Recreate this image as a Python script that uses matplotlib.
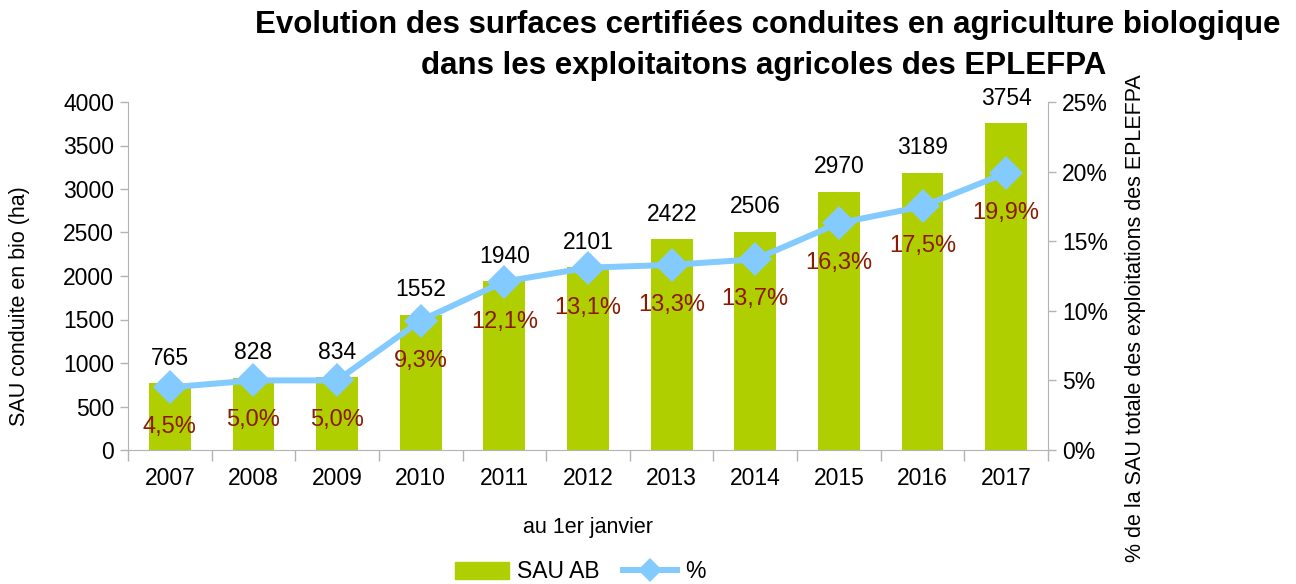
import matplotlib
matplotlib.use("Agg")
import matplotlib.pyplot as plt
from matplotlib.lines import Line2D
from matplotlib.patches import Patch

years = ["2007", "2008", "2009", "2010", "2011", "2012", "2013", "2014", "2015", "2016", "2017"]
sau_ab = [765, 828, 834, 1552, 1940, 2101, 2422, 2506, 2970, 3189, 3754]
pct = [4.5, 5.0, 5.0, 9.3, 12.1, 13.1, 13.3, 13.7, 16.3, 17.5, 19.9]
left_ticks = [0, 500, 1000, 1500, 2000, 2500, 3000, 3500, 4000]
right_ticks = [0, 5, 10, 15, 20, 25]

plt.rcParams['font.family'] = ['Liberation Sans', 'DejaVu Sans']

W, H = 1296, 584
fig = plt.figure(figsize=(W / 100, H / 100), dpi=100)
ax = fig.add_axes([128 / W, 1 - 450 / H, (1048 - 128) / W, (450 - 102) / H])
ax2 = ax.twinx()

grey = "#b3b3b3"
bar_color = "#b0cf00"
line_color = "#83caff"
lab_red = "#8b1a00"
fs = 16.5

x = list(range(len(years)))
ax.bar(x, sau_ab, width=0.5, color=bar_color, zorder=2)
ax.set_xlim(-0.5, len(years) - 0.5)
ax.set_ylim(0, 4000)
ax.set_yticks(left_ticks)
ax.set_yticklabels([str(t) for t in left_ticks], fontsize=fs)
ax.set_xticks(x)
ax.set_xticklabels(years, fontsize=fs)
ax.set_xticks([i - 0.5 for i in range(len(years) + 1)], minor=True)
ax.tick_params(axis='x', which='major', length=0, pad=12)
ax.tick_params(axis='x', which='minor', length=8, color=grey, width=1)
ax.tick_params(axis='y', length=6, color=grey, width=1, pad=4)

ax.spines["top"].set_visible(False)
ax2.spines["top"].set_visible(False)
ax.spines["left"].set_color(grey)
ax.spines["bottom"].set_color(grey)
ax.spines["right"].set_visible(False)
ax2.spines["left"].set_visible(False)
ax2.spines["bottom"].set_visible(False)
ax2.spines["right"].set_color(grey)

for xi, v in zip(x, sau_ab):
    ax.annotate(str(v), (xi, v), xytext=(0, 25), textcoords="offset pixels",
                ha="center", va="center", fontsize=fs, color="black")

ax2.plot(x, pct, color=line_color, lw=4.3, marker="D", markersize=17,
         markeredgewidth=0, zorder=3)
ax2.set_ylim(0, 25)
ax2.set_yticks(right_ticks)
ax2.set_yticklabels([f"{t}%" for t in right_ticks], fontsize=fs)
ax2.tick_params(axis='y', length=6, color=grey, width=1, pad=4)

for xi, v in zip(x, pct):
    ax2.annotate(f"{v:.1f}%".replace(".", ","), (xi, v), xytext=(0, -40),
                 textcoords="offset pixels", ha="center", va="center",
                 fontsize=17, color=lab_red)

fig.text(20 / W, 1 - 306 / H, "SAU conduite en bio (ha)", rotation=90,
         ha="center", va="center", fontsize=15.5)
fig.text(1136 / W, 1 - 318 / H, "% de la SAU totale des exploitations des EPLEFPA",
         rotation=90, ha="center", va="center", fontsize=15.5)
fig.text(588 / W, 1 - 527 / H, "au 1er janvier", ha="center", va="center", fontsize=15.5)

fig.text(768 / W, 1 - 25 / H, "Evolution des surfaces certifiées conduites en agriculture biologique",
         ha="center", va="center", fontsize=22.5, fontweight="bold")
fig.text(764 / W, 1 - 66 / H, "dans les exploitaitons agricoles des EPLEFPA",
         ha="center", va="center", fontsize=22.5, fontweight="bold")

handles = [Patch(color=bar_color, label="SAU AB"),
           Line2D([0], [0], color=line_color, lw=4.3, marker="D", markersize=12,
                  markeredgewidth=0, label="%")]
fig.legend(handles=handles, loc="center", bbox_to_anchor=(580 / W, 1 - 572 / H),
           ncol=2, frameon=False, fontsize=fs, handlelength=2.36, columnspacing=1.0,
           handletextpad=0.35, borderpad=0.1)

fig.savefig("out.png", dpi=100)
